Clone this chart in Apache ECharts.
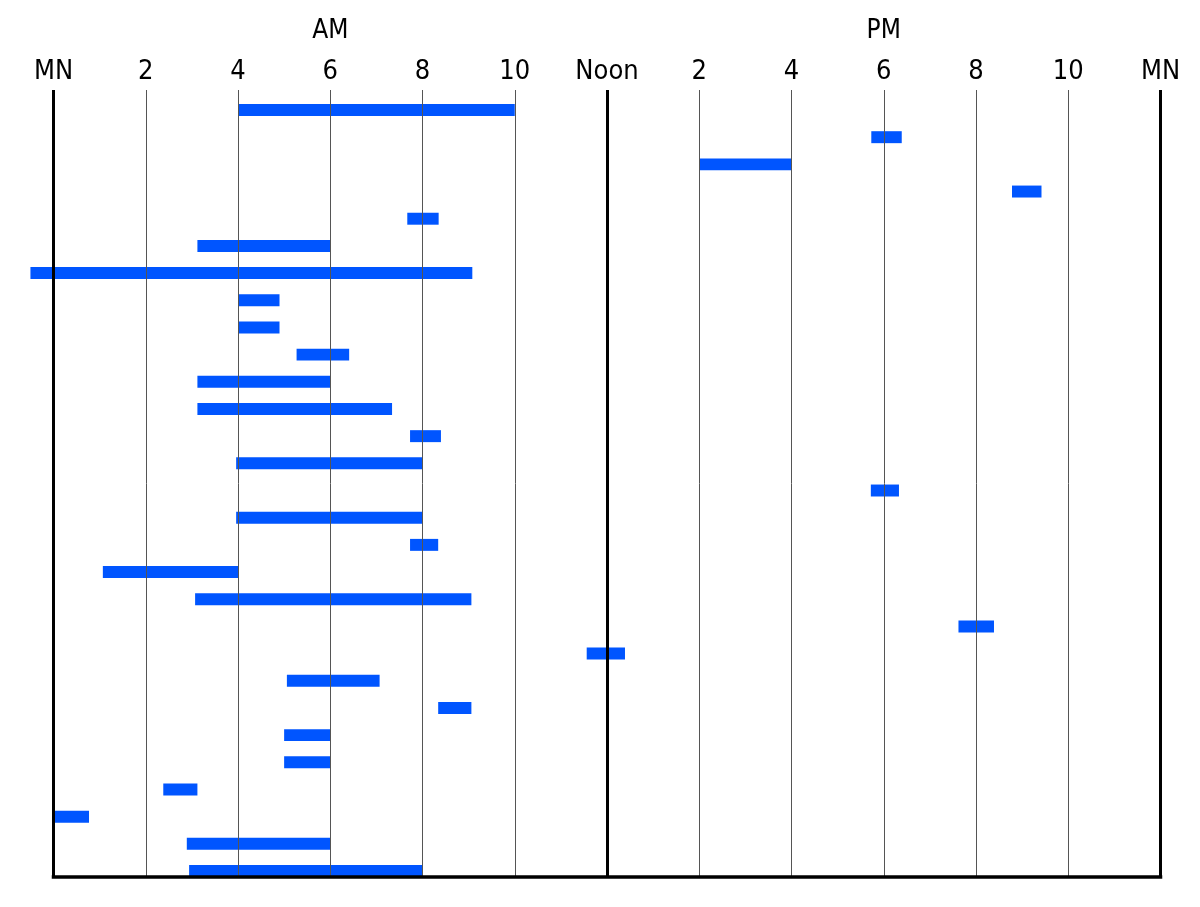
<!DOCTYPE html>
<html>
<head>
<meta charset="utf-8">
<script src="https://cdn.jsdelivr.net/npm/echarts@6/dist/echarts.min.js"></script>
<style>
html,body{margin:0;padding:0;background:#fff;}
#chart{width:1200px;height:907px;}
</style>
</head>
<body>
<div id="chart"></div>
<script>
// Hour of day (0 = midnight, 12 = noon, 24 = midnight), one row per bar, top to bottom
const startHours = [4.0, 17.73, 14.0, 20.78, 7.67, 3.12, -0.5, 4.0, 4.0, 5.27, 3.12, 3.12, 7.73, 3.96, 17.72, 3.96, 7.73, 1.07, 3.07, 19.62, 11.56, 5.06, 8.34, 5.0, 5.0, 2.38, 0.02, 2.89, 2.94];
const endHours   = [10.0, 18.39, 16.01, 21.42, 8.35, 6.0, 9.08, 4.9, 4.9, 6.41, 6.0, 7.34, 8.4, 8.0, 18.33, 8.0, 8.34, 4.0, 9.06, 20.39, 12.39, 7.07, 9.06, 6.0, 6.0, 3.12, 0.77, 6.0, 8.0];
const tickLabels = ['MN', '2', '4', '6', '8', '10', 'Noon', '2', '4', '6', '8', '10', 'MN'];
const periodLabels = ['', 'AM', '', 'PM', ''];
const majorLines = [0, 12, 24];

const FONT = "'Liberation Sans Narrow', 'Arial Narrow', 'DejaVu Sans Condensed', sans-serif";

const rows = startHours.map((s, i) => [s, endHours[i], i]);

const chart = echarts.init(document.getElementById('chart'), null, {renderer: 'canvas'});
chart.setOption({
  backgroundColor: '#ffffff',
  animation: false,
  grid: {left: 53.5, right: 39.5, top: 90, bottom: 30, containLabel: false},
  xAxis: [
    {
      type: 'value', position: 'top', min: 0, max: 24, interval: 2, z: 5,
      axisLine: {show: false}, axisTick: {show: false},
      axisLabel: {
        show: true, margin: 5, color: '#000', fontSize: 27, fontFamily: FONT,
        formatter: v => tickLabels[Math.round(v / 2)]
      },
      splitLine: {show: true, lineStyle: {color: '#555', width: 1}}
    },
    {
      type: 'value', position: 'top', offset: 41, min: 0, max: 24, interval: 6, z: 5,
      axisLine: {show: false}, axisTick: {show: false}, splitLine: {show: false},
      axisLabel: {
        show: true, margin: 5, color: '#000', fontSize: 26, fontFamily: FONT,
        formatter: v => periodLabels[Math.round(v / 6)]
      }
    },
    {
      type: 'value', position: 'bottom', min: 0, max: 24, z: 6,
      axisLine: {show: true, lineStyle: {color: '#000', width: 3.5, cap: 'square'}},
      axisTick: {show: false}, axisLabel: {show: false}, splitLine: {show: false}
    }
  ],
  yAxis: {
    type: 'value', inverse: true, min: -0.736, max: 28.22, show: false
  },
  series: [
    {
      type: 'custom',
      xAxisIndex: 0,
      clip: false,
      z: 2,
      encode: {x: [0, 1], y: 2},
      data: rows,
      renderItem: function (params, api) {
        const a = api.coord([api.value(0), api.value(2)]);
        const b = api.coord([api.value(1), api.value(2)]);
        const h = api.size([0, 1])[1] * 0.44;
        return {
          type: 'rect',
          shape: {x: a[0], y: a[1] - h / 2, width: b[0] - a[0], height: h},
          style: {fill: '#0055ff'}
        };
      },
      markLine: {
        silent: true, symbol: 'none', z: 5,
        label: {show: false},
        lineStyle: {color: '#000', width: 3, type: 'solid'},
        data: majorLines.map(v => ({xAxis: v}))
      }
    }
  ]
});
</script>
</body>
</html>
